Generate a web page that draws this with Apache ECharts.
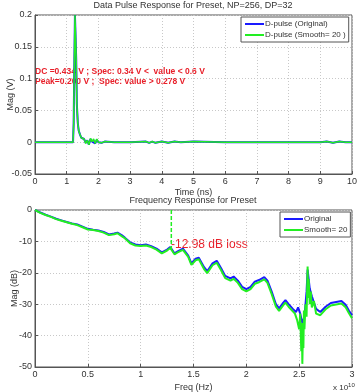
<!DOCTYPE html>
<html>
<head>
<meta charset="utf-8">
<script src="https://cdn.jsdelivr.net/npm/echarts@6/dist/echarts.min.js"></script>
<style>
  html, body { margin: 0; padding: 0; background: #fff; }
  #chart { width: 359px; height: 392px; }
</style>
</head>
<body>
<div id="chart"></div>
<script>
// pulse response (time in ns, magnitude in V)
var pulseTime = [0, 1.2, 1.22, 1.24, 1.26, 1.28, 1.3, 1.32, 1.35, 1.38, 1.42, 1.46, 1.5, 1.55, 1.6, 1.65, 1.7, 1.75, 1.8, 1.85, 1.9, 1.95, 2.0, 2.05, 2.1, 2.2, 2.5, 3.0, 3.5, 3.6, 3.7, 3.8, 4.0, 4.2, 4.4, 4.6, 5.0, 6, 7, 8, 9, 9.2, 9.4, 9.6, 9.8, 10];
var pulseOrig = [0, 0, 0.03, 0.12, 0.2, 0.2, 0.13, 0.06, 0.03, 0.018, 0.012, 0.007, 0.004, 0.005, -0.001, 0.003, -0.004, 0.005, 0.001, 0.004, -0.002, 0.004, 0, 0.002, -0.001, 0.001, 0, 0, 0.001, -0.001, 0.001, -0.001, 0.001, -0.001, 0.001, 0, 0.001, 0, 0, 0, 0, 0.001, -0.001, 0.001, 0, 0];
var pulseSmooth = [0, 0, 0.03, 0.12, 0.2, 0.2, 0.13, 0.06, 0.03, 0.018, 0.012, 0.007, 0.004, 0.005, -0.002, 0.003, -0.004, 0.006, 0.001, 0.005, -0.002, 0.005, 0, 0.002, -0.001, 0.001, 0, 0, 0.001, -0.001, 0.001, -0.001, 0.001, -0.001, 0.001, 0, 0.001, 0, 0, 0, 0, 0.001, -0.001, 0.001, 0, 0];

// frequency response (freq in 1e10 Hz, magnitude in dB)
var freqOrig = [0, 0.05, 0.1, 0.15, 0.2, 0.25, 0.3, 0.35, 0.4, 0.45, 0.5, 0.55, 0.6, 0.65, 0.7, 0.75, 0.78, 0.82, 0.85, 0.9, 0.95, 1.0, 1.05, 1.1, 1.15, 1.2, 1.25, 1.28, 1.32, 1.35, 1.4, 1.45, 1.48, 1.52, 1.55, 1.6, 1.63, 1.68, 1.72, 1.76, 1.8, 1.85, 1.88, 1.92, 1.96, 2.0, 2.04, 2.08, 2.12, 2.17, 2.2, 2.24, 2.28, 2.31, 2.35, 2.37, 2.4, 2.44, 2.47, 2.49, 2.51, 2.53, 2.55, 2.57, 2.58, 2.6, 2.62, 2.66, 2.7, 2.75, 2.8, 2.85, 2.9, 2.94, 2.97, 3.0];
var magOrig = [0, -0.8, -1.5, -2.1, -2.8, -3.3, -3.8, -4.3, -4.6, -5.3, -6.0, -6.3, -6.5, -7.0, -7.8, -7.5, -7.2, -8.0, -8.8, -10.3, -11.0, -11.2, -11.0, -11.5, -12.3, -13.5, -12.6, -11.8, -13.8, -13.2, -12.3, -14.5, -17, -15.5, -15.2, -18.2, -19.5, -17, -16.2, -18.5, -21, -21.8, -21.2, -22.5, -24.5, -25.2, -24.5, -22.8, -22.3, -21.4, -22.5, -26, -30, -31.3, -29.5, -28.7, -30, -31.5, -32.5, -31, -33, -36, -34, -26, -19, -25, -27.5, -31.5, -32.5, -30.8, -29.6, -29.3, -29, -30.2, -32, -33.5];
var freqSmooth = [0, 0.05, 0.1, 0.15, 0.2, 0.25, 0.3, 0.35, 0.4, 0.45, 0.5, 0.55, 0.6, 0.65, 0.7, 0.75, 0.78, 0.82, 0.85, 0.9, 0.95, 1.0, 1.05, 1.1, 1.15, 1.2, 1.25, 1.28, 1.32, 1.35, 1.4, 1.45, 1.48, 1.52, 1.55, 1.6, 1.63, 1.68, 1.72, 1.76, 1.8, 1.85, 1.88, 1.92, 1.96, 2.0, 2.04, 2.08, 2.12, 2.17, 2.2, 2.24, 2.28, 2.31, 2.35, 2.37, 2.4, 2.44, 2.46, 2.48, 2.5, 2.51, 2.52, 2.525, 2.53, 2.535, 2.54, 2.545, 2.55, 2.56, 2.57, 2.58, 2.585, 2.59, 2.6, 2.61, 2.62, 2.64, 2.66, 2.7, 2.75, 2.8, 2.85, 2.9, 2.94, 2.97, 3.0];
var magSmooth = [0, -0.9, -1.6, -2.2, -2.9, -3.4, -3.9, -4.4, -4.8, -5.5, -6.2, -6.4, -6.7, -7.2, -8.0, -7.7, -7.4, -8.3, -9.0, -10.6, -11.3, -11.5, -11.3, -11.8, -12.6, -13.8, -12.9, -12.1, -14.1, -13.5, -12.7, -14.9, -17.5, -16, -15.7, -18.8, -20.1, -17.6, -16.8, -19.1, -21.7, -22.5, -21.9, -23.2, -25.2, -25.9, -25.2, -23.5, -23, -22.1, -23.2, -26.8, -30.8, -32.1, -30.3, -29.5, -30.8, -32.3, -33, -35, -38, -33, -45, -36, -49, -40, -44, -32, -38, -30, -34, -18, -28, -22, -30, -26, -31, -29, -33, -33.5, -31.6, -30.4, -30.1, -29.8, -31, -32.8, -34.5];

var lossFreq = 1.29;
var lossValue = -12.98;

function zip(xs, ys) {
    return xs.map(function (x, i) { return [x, ys[i]]; });
}

var myChart = echarts.init(document.getElementById('chart'));
var txt = '#333';
var fnt = 'Liberation Sans';

function axisCommon(extra) {
    var base = {
        type: 'value',
        nameMoveOverlap: false,
        axisLine: { show: true, onZero: false, lineStyle: { color: '#555', width: 1 } },
        axisTick: { show: true, inside: true, length: 3, lineStyle: { color: '#555' } },
        axisLabel: { color: txt, fontSize: 9, fontFamily: fnt, margin: 3 },
        splitLine: { show: true, lineStyle: { color: '#c8c8c8', type: [1, 2] } },
        nameTextStyle: { color: txt, fontSize: 9, fontFamily: fnt }
    };
    return Object.assign(base, extra);
}

function legendBox(names, left, top) {
    return {
        data: names,
        orient: 'vertical', left: left, top: top,
        backgroundColor: '#fff', borderColor: '#555', borderWidth: 1,
        padding: [3, 3, 3, 4], itemGap: 3, itemWidth: 19, itemHeight: 2,
        icon: 'rect',
        textStyle: { fontSize: 8, color: txt, fontFamily: fnt, padding: [0, 0, 0, -4] }
    };
}

var option = {
    backgroundColor: '#fff',
    animation: false,
    textStyle: { fontFamily: fnt },
    title: [{
        text: 'Data Pulse Response for Preset, NP=256, DP=32',
        left: 193, top: 1, textAlign: 'center', padding: 0,
        textStyle: { fontSize: 9, fontWeight: 'normal', color: txt, fontFamily: fnt }
    }, {
        text: 'Frequency Response for Preset',
        left: 193, top: 196, textAlign: 'center', padding: 0,
        textStyle: { fontSize: 9, fontWeight: 'normal', color: txt, fontFamily: fnt }
    }],
    grid: [
        { left: 35, top: 15, width: 317, height: 159, outerBoundsMode: 'none', containLabel: false, show: true, borderColor: '#555', borderWidth: 1, backgroundColor: '#fff' },
        { left: 35, top: 210, width: 317, height: 157, outerBoundsMode: 'none', containLabel: false, show: true, borderColor: '#555', borderWidth: 1, backgroundColor: '#fff' }
    ],
    xAxis: [
        axisCommon({ gridIndex: 0, min: 0, max: 10, interval: 1, name: 'Time (ns)', nameLocation: 'middle', nameGap: 14.5 }),
        axisCommon({ gridIndex: 1, min: 0, max: 3, interval: 0.5, name: 'Freq (Hz)', nameLocation: 'middle', nameGap: 16 })
    ],
    yAxis: [
        axisCommon({ gridIndex: 0, min: -0.05, max: 0.2, interval: 0.05, name: 'Mag (V)', nameLocation: 'middle', nameGap: 20 }),
        axisCommon({ gridIndex: 1, min: -50, max: 0, interval: 10, name: 'Mag (dB)', nameLocation: 'middle', nameGap: 16 })
    ],
    legend: [
        legendBox(['D-pulse (Original)', 'D-pulse (Smooth= 20 )'], 241, 17),
        legendBox(['Original', 'Smooth= 20'], 280, 212)
    ],
    series: [{
        name: 'D-pulse (Original)', type: 'line', xAxisIndex: 0, yAxisIndex: 0,
        data: zip(pulseTime, pulseOrig), showSymbol: false, color: '#1a1aff',
        lineStyle: { width: 2 }
    }, {
        name: 'D-pulse (Smooth= 20 )', type: 'line', xAxisIndex: 0, yAxisIndex: 0,
        data: zip(pulseTime, pulseSmooth), showSymbol: false, color: '#22ee22',
        lineStyle: { width: 1.5 }
    }, {
        name: 'Original', type: 'line', xAxisIndex: 1, yAxisIndex: 1,
        data: zip(freqOrig, magOrig), showSymbol: false, color: '#1a1aff',
        lineStyle: { width: 2 }
    }, {
        name: 'Smooth= 20', type: 'line', xAxisIndex: 1, yAxisIndex: 1,
        data: zip(freqSmooth, magSmooth), showSymbol: false, color: '#22ee22',
        lineStyle: { width: 2 }
    }, {
        name: 'loss marker', type: 'line', xAxisIndex: 1, yAxisIndex: 1,
        data: [[lossFreq, 0], [lossFreq, lossValue]], showSymbol: false, color: '#22ee22',
        lineStyle: { width: 1.5, type: [4, 2] }, silent: true
    }],
    graphic: [{
        type: 'text', left: 35, top: 66,
        style: {
            text: 'DC =0.434 V ; Spec: 0.34 V <  value < 0.6 V\nPeak=0.200 V ;  Spec: value > 0.278 V',
            fill: '#e8202a', font: 'bold 8.5px Liberation Sans', lineHeight: 10.5
        }
    }, {
        type: 'text', left: 171, top: 239,
        style: { text: '-12.98 dB loss', fill: '#e8202a', font: '12px Liberation Sans' }
    }, {
        type: 'text', left: 333, top: 382,
        style: {
            text: '{a|x 10}{b|10}',
            rich: {
                a: { fontSize: 8, fill: txt, fontFamily: fnt },
                b: { fontSize: 6, fill: txt, fontFamily: fnt, verticalAlign: 'top', padding: [0, 0, 6, 0] }
            }
        }
    }]
};
myChart.setOption(option);
</script>
</body>
</html>
